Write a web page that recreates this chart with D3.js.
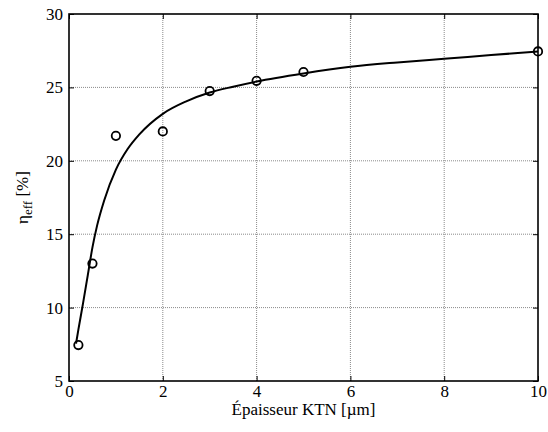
<!DOCTYPE html>
<html>
<head>
<meta charset="utf-8">
<script src="https://d3js.org/d3.v7.min.js"></script>
<style>
body { margin: 0; background: #fff; }
</style>
</head>
<body>
<div id="chart"></div>
<script>
// measured points
var thickness = [0.2, 0.5, 1, 2, 3, 4, 5, 10];
var efficiency = [7.45, 13.0, 21.7, 22.0, 24.75, 25.45, 26.05, 27.45];

// fitted curve
var fitX = [0.15, 0.2, 0.3, 0.4, 0.5, 0.6, 0.75, 1, 1.25, 1.5, 2, 2.5, 3, 3.5, 4, 5, 6, 7, 8, 9, 10];
var fitY = [7.55, 8.5, 10.3, 12.2, 14.1, 15.6, 17.3, 19.4, 20.8, 21.8, 23.2, 24.05, 24.65, 25.05, 25.4, 25.95, 26.4, 26.7, 26.95, 27.2, 27.45];

var xTicks = [0, 2, 4, 6, 8, 10];
var yTicks = [5, 10, 15, 20, 25, 30];

var width = 548, height = 432;
var margin = {top: 14, right: 10, bottom: 51, left: 69};

var svg = d3.select('#chart').append('svg')
	.attr('width', width).attr('height', height)
	.attr('style', "font-family:'Liberation Serif'");

var x = d3.scaleLinear().domain([0, 10]).range([margin.left, width - margin.right]);
var y = d3.scaleLinear().domain([5, 30]).range([height - margin.bottom, margin.top]);

// grid
var grid = svg.append('g');
grid.selectAll('line.gx')
	.data(xTicks.slice(1, -1))
	.enter().append('line')
	.attr('x1', d => x(d)).attr('x2', d => x(d))
	.attr('y1', y(5)).attr('y2', y(30))
	.attr('stroke', '#8a8a8a').attr('stroke-width', 1).attr('stroke-dasharray', '1,1');
grid.selectAll('line.gy')
	.data(yTicks.slice(1, -1))
	.enter().append('line')
	.attr('y1', d => y(d)).attr('y2', d => y(d))
	.attr('x1', x(0)).attr('x2', x(10))
	.attr('stroke', '#8a8a8a').attr('stroke-width', 1).attr('stroke-dasharray', '1,1');

// axes with inward ticks
var fmt = d3.format('d');
var xAxis = svg.append('g')
	.attr('transform', 'translate(0,' + y(5) + ')')
	.call(d3.axisBottom(x).tickValues(xTicks).tickFormat(fmt).tickSizeInner(-5).tickSizeOuter(0).tickPadding(4));
var yAxis = svg.append('g')
	.attr('transform', 'translate(' + x(0) + ',0)')
	.call(d3.axisLeft(y).tickValues(yTicks).tickFormat(fmt).tickSizeInner(-5).tickSizeOuter(0).tickPadding(6));
svg.append('g')
	.attr('transform', 'translate(0,' + y(30) + ')')
	.call(d3.axisTop(x).tickValues(xTicks).tickFormat('').tickSizeInner(-5).tickSizeOuter(0));
svg.append('g')
	.attr('transform', 'translate(' + x(10) + ',0)')
	.call(d3.axisRight(y).tickValues(yTicks).tickFormat('').tickSizeInner(-5).tickSizeOuter(0));

svg.selectAll('.domain').remove();
svg.selectAll('.tick line').attr('stroke', '#000').attr('stroke-width', 1);
svg.selectAll('g').attr('font-family', 'Liberation Serif').attr('font-size', 17);
svg.selectAll('.tick text').attr('style', "font-family:'Liberation Serif';font-size:17px");

// frame
svg.append('rect')
	.attr('x', x(0)).attr('y', y(30))
	.attr('width', x(10) - x(0)).attr('height', y(5) - y(30))
	.attr('fill', 'none').attr('stroke', '#000').attr('stroke-width', 1.6);

// curve
var line = d3.line()
	.x(function(d, i) { return x(fitX[i]); })
	.y(function(d, i) { return y(fitY[i]); })
	.curve(d3.curveMonotoneX);
svg.append('path')
	.attr('d', line(fitX))
	.attr('fill', 'none').attr('stroke', '#000').attr('stroke-width', 2);

// markers
svg.selectAll('circle')
	.data(thickness)
	.enter().append('circle')
	.attr('cx', d => x(d))
	.attr('cy', (d, i) => y(efficiency[i]))
	.attr('r', 4.2)
	.attr('fill', 'none').attr('stroke', '#000').attr('stroke-width', 1.8);

// labels
svg.append('text')
	.attr('x', (x(0) + x(10)) / 2).attr('y', 415)
	.attr('text-anchor', 'middle')
	.attr('style', "font-family:'Liberation Serif';font-size:17px")
	.text('Épaisseur KTN [µm]');

var yl = svg.append('text')
	.attr('transform', 'translate(28,' + ((y(5) + y(30)) / 2) + ') rotate(-90)')
	.attr('text-anchor', 'middle')
	.attr('style', "font-family:'Liberation Serif';font-size:17px");
yl.append('tspan').text('η');
yl.append('tspan').attr('style', 'font-size:13px').attr('dy', 4).text('eff');
yl.append('tspan').attr('dy', -4).text(' [%]');
</script>
</body>
</html>
